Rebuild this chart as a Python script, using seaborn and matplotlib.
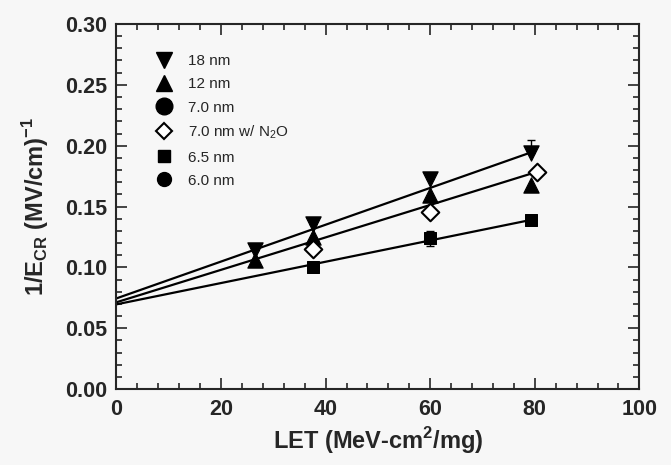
import matplotlib.pyplot as plt
import seaborn as sns
from matplotlib.lines import Line2D
from matplotlib.ticker import MultipleLocator

# values
let_18 = [26.5, 37.6, 59.9, 79.3]
inv_e_18 = [0.114, 0.1356, 0.1724, 0.1937]
err_18 = [0.0, 0.0, 0.0055, 0.011]

let_12 = [26.5, 37.6, 59.9, 79.3]
inv_e_12 = [0.106, 0.1247, 0.1595, 0.1677]

let_70n2o = [37.6, 59.9, 80.4]
inv_e_70n2o = [0.1148, 0.1457, 0.1786]

let_65 = [37.6, 59.9, 79.3]
inv_e_65 = [0.1005, 0.1239, 0.139]
err_65 = [0.0, 0.006, 0.0]

# fitted lines (end points as read)
fit_x = [0, 79.3]
fit_18 = [0.0745, 0.1945]
fit_12 = [0.0713, 0.1770]
fit_65 = [0.0696, 0.1390]

bg = "#f7f7f7"
sns.set_style("ticks")
plt.rcParams["font.family"] = ["Liberation Sans", "DejaVu Sans"]
plt.rcParams["mathtext.fontset"] = "custom"
plt.rcParams["mathtext.bf"] = "Liberation Sans:bold"
plt.rcParams["mathtext.rm"] = "Liberation Sans"

fig = plt.figure(figsize=(6.71, 4.65), dpi=100, facecolor=bg)
ax = fig.add_axes([0.1736, 0.1634, 0.7792, 0.785])
ax.set_facecolor(bg)

for fy in [fit_18, fit_12, fit_65]:
    sns.lineplot(x=fit_x, y=fy, ax=ax, color="black", lw=1.6, zorder=2)

ax.errorbar(let_18, inv_e_18, yerr=[[0] * 4, err_18], fmt="none",
            ecolor="black", elinewidth=1, capsize=3, zorder=2)
ax.errorbar(let_65, inv_e_65, yerr=err_65, fmt="none",
            ecolor="black", elinewidth=1, capsize=3, zorder=2)

sns.scatterplot(x=let_18, y=inv_e_18, ax=ax, marker="v", s=120,
                color="black", edgecolor="black", zorder=3)
sns.scatterplot(x=let_12, y=inv_e_12, ax=ax, marker="^", s=120,
                color="black", edgecolor="black", zorder=3)
sns.scatterplot(x=let_70n2o, y=inv_e_70n2o, ax=ax, marker="D", s=80,
                color="white", edgecolor="black", linewidth=1.5, zorder=4)
sns.scatterplot(x=let_65, y=inv_e_65, ax=ax, marker="s", s=80,
                color="black", edgecolor="black", zorder=3)

ax.set_xlim(0, 100)
ax.set_ylim(0, 0.30)
ax.xaxis.set_major_locator(MultipleLocator(20))
ax.xaxis.set_minor_locator(MultipleLocator(4))
ax.yaxis.set_major_locator(MultipleLocator(0.05))
ax.yaxis.set_minor_locator(MultipleLocator(0.01))
ax.yaxis.set_major_formatter(plt.FormatStrFormatter("%.2f"))
ax.tick_params(which="both", direction="in", top=True, right=True, width=1.2)
ax.tick_params(which="major", length=8, labelsize=15.5, pad=7)
ax.tick_params(which="minor", length=4)
for lab in ax.get_xticklabels() + ax.get_yticklabels():
    lab.set_fontweight("bold")
for sp in ax.spines.values():
    sp.set_linewidth(1.5)

ax.set_xlabel(r"LET (MeV-cm$^{\mathbf{2}}$/mg)", fontsize=17, fontweight="bold", labelpad=4)
ax.set_ylabel(r"1/E$_{\mathbf{CR}}$ (MV/cm)$^{\mathbf{-1}}$", fontsize=17, fontweight="bold", labelpad=10)

handles = [
    Line2D([], [], ls="none", marker="v", ms=11, color="black"),
    Line2D([], [], ls="none", marker="^", ms=11, color="black"),
    Line2D([], [], ls="none", marker="o", ms=12, color="black"),
    Line2D([], [], ls="none", marker="D", ms=8, mfc="white", mec="black", mew=1.5),
    Line2D([], [], ls="none", marker="s", ms=8, color="black"),
    Line2D([], [], ls="none", marker="o", ms=10, color="black"),
]
labels = ["18 nm", "12 nm", "7.0 nm", "7.0 nm w/ N$_2$O", "6.5 nm", "6.0 nm"]
leg = ax.legend(handles, labels, loc="upper left", frameon=False, fontsize=11,
                labelspacing=0.6, handletextpad=0.6, borderaxespad=0.5,
                bbox_to_anchor=(0.035, 0.955))
for t in leg.get_texts():
    t.set_fontweight("normal")

fig.savefig("out.png", dpi=100, facecolor=bg)
